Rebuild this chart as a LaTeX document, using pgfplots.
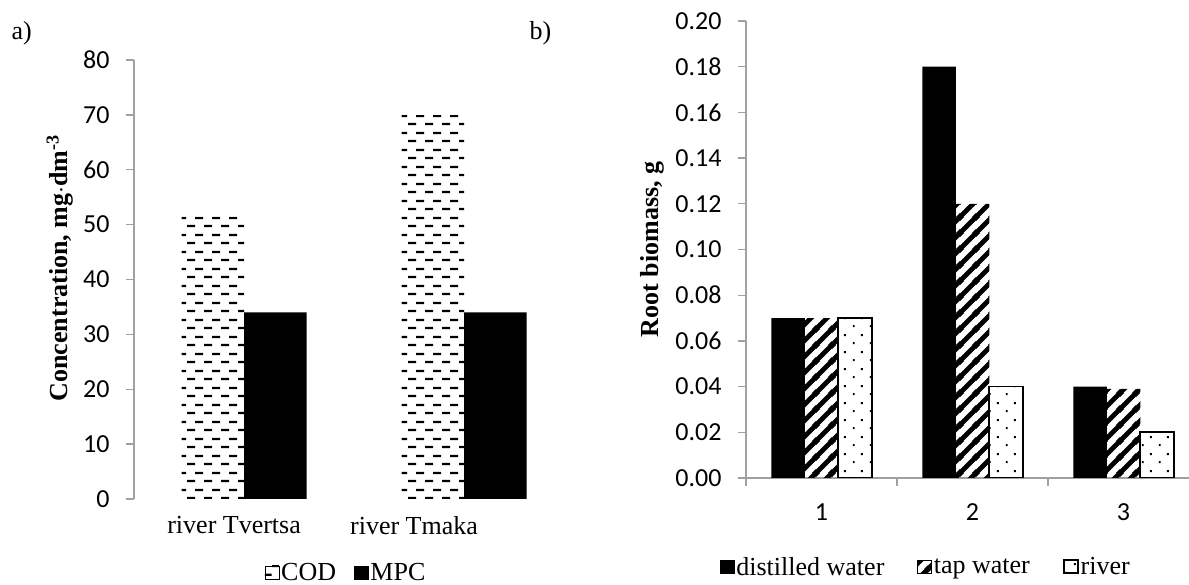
\documentclass[border=0pt]{standalone}
\usepackage{fontspec}
\setmainfont{Liberation Serif}
\newfontfamily\carlito{Carlito}
\usepackage{pgfplots}
\pgfplotsset{compat=1.18}
\usetikzlibrary{patterns}
\definecolor{axgray}{RGB}{160,160,160}

% horizontal dashes, brick-like
\pgfdeclarepatternformonly{codbrick}{\pgfpointorigin}{\pgfqpoint{17pt}{17pt}}{\pgfqpoint{17pt}{17pt}}{%
  \pgfpathrectangle{\pgfqpoint{0pt}{1pt}}{\pgfqpoint{8.5pt}{2.2pt}}%
  \pgfpathrectangle{\pgfqpoint{8.5pt}{9.5pt}}{\pgfqpoint{8.5pt}{2.2pt}}%
  \pgfusepath{fill}}
% thick diagonal stripes
\pgfdeclarepatternformonly{tapdiag}{\pgfpointorigin}{\pgfqpoint{16pt}{16pt}}{\pgfqpoint{16pt}{16pt}}{%
  \pgfsetlinewidth{5pt}%
  \pgfpathmoveto{\pgfqpoint{-3pt}{-3pt}}\pgfpathlineto{\pgfqpoint{19pt}{19pt}}%
  \pgfpathmoveto{\pgfqpoint{-3pt}{13pt}}\pgfpathlineto{\pgfqpoint{3pt}{19pt}}%
  \pgfpathmoveto{\pgfqpoint{13pt}{-3pt}}\pgfpathlineto{\pgfqpoint{19pt}{3pt}}%
  \pgfusepath{stroke}}
% sparse dots
\pgfdeclarepatternformonly{riverdots}{\pgfpointorigin}{\pgfqpoint{17pt}{17pt}}{\pgfqpoint{17pt}{17pt}}{%
  \pgfpathrectangle{\pgfqpoint{3pt}{3pt}}{\pgfqpoint{2pt}{2pt}}%
  \pgfpathrectangle{\pgfqpoint{11.5pt}{11.5pt}}{\pgfqpoint{2pt}{2pt}}%
  \pgfusepath{fill}}

\newcommand{\serif}{\fontsize{26}{30}\selectfont}
\newcommand{\nums}{\carlito\fontsize{26}{29}\selectfont}

\pgfplotsset{
  myleg/.style={legend image code/.code={\draw[##1] (0pt,-6pt) rectangle (14pt,7pt);}},
  common/.style={
    scale only axis, anchor=south west,
    axis y line*=left, axis x line*=bottom,
    y axis line style={draw=axgray, line width=1.5pt},
    ytick style={draw=axgray, line width=1.3pt},
    tick align=outside, major tick length=8pt, minor tick length=8pt,
    xtick style={draw=none},
    /pgf/number format/assume math mode=true,
    yticklabel style={font=\nums, xshift=-13pt},
    legend style={draw=none, fill=none, font=\serif, anchor=center,
      nodes={inner sep=2pt}},
    ylabel style={font=\serif\bfseries, anchor=center, rotate=0},
    enlargelimits=false,
  }
}

\begin{document}
\begin{tikzpicture}
\begin{axis}[common,
  at={(134pt,86pt)}, width=440pt, height=439pt,
  ybar=0pt, bar width=62.5pt,
  xmin=0.5, xmax=2.5, ymin=0, ymax=80,
  ytick={0,10,20,30,40,50,60,70,80},
  x axis line style={draw=none},
  xtick={0.955,1.773}, xticklabels={river Tvertsa,river Tmaka},
  xticklabel style={font=\serif, yshift=-6pt},
  ylabel={Concentration, mg$\cdot$dm\textsuperscript{-3}},
  ylabel style={at={(axis description cs:-0.168,0.526)}},
  legend columns=2,
  legend style={at={(axis description cs:0.482,-0.168)},
    /tikz/every even column/.append style={column sep=16pt}},
]
\addplot[myleg, pattern=codbrick, draw=none] coordinates {(1,51.5) (2,70)};
\addplot[myleg, fill=black, draw=none] coordinates {(1,34) (2,34)};
\legend{COD,MPC}
\end{axis}

\begin{axis}[common,
  at={(746pt,107pt)}, width=453pt, height=457pt,
  ybar=0pt, bar width=33.5pt,
  xmin=0.5, xmax=3.5, ymin=0, ymax=0.2,
  ytick={0,0.02,0.04,0.06,0.08,0.10,0.12,0.14,0.16,0.18,0.20},
  yticklabel style={/pgf/number format/.cd, fixed, fixed zerofill, precision=2},
  x axis line style={draw=axgray, line width=1.5pt},
  xtick={1,2,3},
  minor xtick={0.5,1.5,2.5,3.5},
  minor x tick style={draw=axgray, line width=1.3pt},
  xticklabel style={font=\nums, yshift=-14pt},
  ylabel={Root biomass, g},
  ylabel style={at={(axis description cs:-0.2075,0.5)}},
  legend columns=3,
  legend style={at={(axis description cs:0.397,-0.195)},
    /tikz/every even column/.append style={column sep=31pt}},
]
\addplot[myleg, fill=black, draw=none] coordinates {(1,0.07) (2,0.18) (3,0.04)};
\addplot[myleg, pattern=tapdiag, draw=none] coordinates {(1,0.07) (2,0.12) (3,0.039)};
\addplot[myleg, pattern=riverdots, draw=black, line width=1.8pt] coordinates {(1,0.07) (2,0.04) (3,0.02)};
\legend{distilled water,tap water,river}
\end{axis}

\node[font=\serif, anchor=west] at (8pt,552pt) {a)};
\node[font=\serif, anchor=west] at (526pt,552pt) {b)};
\pgfresetboundingbox
\useasboundingbox (0pt,0pt) rectangle (1189pt,585pt);
\end{tikzpicture}
\end{document}
